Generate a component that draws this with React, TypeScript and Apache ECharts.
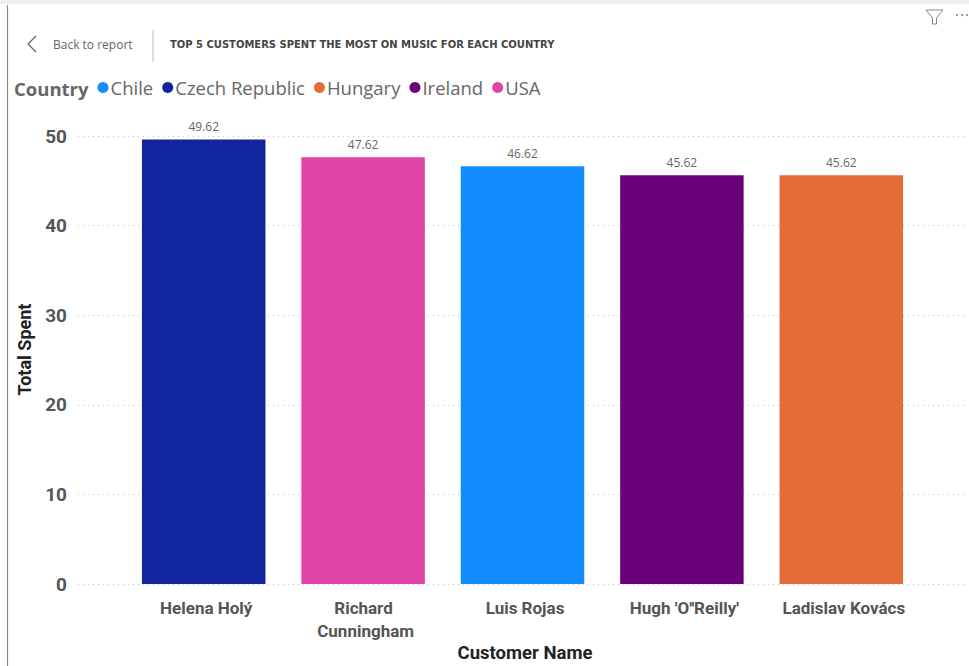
import React, { useEffect, useRef } from "react";
import * as echarts from "echarts";

const customers = ["Helena Holý", "Richard Cunningham", "Luis Rojas", "Hugh 'O''Reilly'", "Ladislav Kovács"];
const countries = ["Chile", "Czech Republic", "Hungary", "Ireland", "USA"];
const colors = ["#118DFF", "#12239E", "#E66C37", "#6B007B", "#E044A7"];
const chile = [null, null, 46.62, null, null];
const czech = [49.62, null, null, null, null];
const hungary = [null, null, null, null, 45.62];
const ireland = [null, null, null, 45.62, null];
const usa = [null, 47.62, null, null, null];
const countryValues = [chile, czech, hungary, ireland, usa];
const headerTitle = "TOP 5 CUSTOMERS SPENT THE MOST ON MUSIC FOR EACH COUNTRY";

const UI = "'Open Sans', 'Noto Sans', sans-serif";
const LBL = "Roboto, 'Noto Sans', sans-serif";

export default function App() {
  const ref = useRef<HTMLDivElement>(null);
  useEffect(() => {
    const chart = echarts.init(ref.current!, undefined, { renderer: "svg" });
    chart.setOption({
      animation: false,
      backgroundColor: "#fff",
      grid: [
        { left: 78, right: 4, top: 136, bottom: 82, outerBoundsMode: "none" },
        { left: 124, right: 48, top: 136, bottom: 82, outerBoundsMode: "none" },
      ],
      xAxis: [
        { type: "value", gridIndex: 0, show: false, min: 0, max: 1 },
        {
          type: "category",
          gridIndex: 1,
          data: customers,
          axisLine: { show: false },
          axisTick: { show: false },
          axisLabel: {
            interval: 0,
            margin: 12.5,
            width: 135,
            overflow: "break",
            lineHeight: 23,
            padding: [0, 0, 0, 5],
            fontFamily: LBL,
            fontWeight: "bold",
            fontSize: 17,
            color: "#555",
          },
          name: "Customer Name",
          nameLocation: "middle",
          nameGap: 59,
          nameMoveOverlap: false,
          nameTextStyle: { fontFamily: LBL, fontWeight: "bold", fontSize: 18.5, color: "#222", padding: [0, 0, 0, 5] },
        },
      ],
      yAxis: [
        {
          type: "value",
          gridIndex: 0,
          min: 0,
          max: 50,
          interval: 10,
          axisLine: { show: false },
          axisTick: { show: false },
          axisLabel: { margin: 11, fontFamily: LBL, fontWeight: "bold", fontSize: 19, color: "#555" },
          splitLine: { show: true, lineStyle: { type: [1, 4], color: "#c0c0c0", width: 1 } },
          name: "Total Spent",
          nameLocation: "middle",
          nameGap: 45,
          nameTextStyle: { fontFamily: LBL, fontWeight: "bold", fontSize: 18, color: "#222", padding: [0, 0, 0, 21] },
        },
        { type: "value", gridIndex: 1, show: false, min: 0, max: 50, interval: 10, splitLine: { show: false } },
      ],
      legend: {
        left: 97.5,
        top: 78,
        padding: 0,
        icon: "circle",
        itemWidth: 11,
        itemHeight: 11,
        itemGap: 9,
        data: countries,
        textStyle: { fontFamily: UI, fontSize: 18.5, color: "#666", padding: [0, 0, 0, -3] },
      },
      series: countries.map((name, i) => ({
        name,
        type: "bar",
        xAxisIndex: 1,
        yAxisIndex: 1,
        barGap: "-100%",
        barWidth: 123.5,
        data: countryValues[i],
        itemStyle: { color: colors[i] },
        label: {
          show: true,
          position: "top",
          distance: 7,
          formatter: (p: any) => Number(p.value).toFixed(2),
          fontFamily: UI,
          fontSize: 12,
          color: "#666",
        },
      })),
      graphic: [
        { type: "rect", shape: { x: 0, y: 0, width: 969, height: 4 }, style: { fill: "#f0f0f0" } },
        { type: "line", shape: { x1: 7.5, y1: 5, x2: 7.5, y2: 666 }, style: { stroke: "#8a8a8a", lineWidth: 1.2 } },
        { type: "polyline", shape: { points: [[36, 36], [28, 44], [36, 52]] }, style: { stroke: "#666", lineWidth: 1.2, fill: "none" } },
        { type: "text", x: 53, y: 44, style: { text: "Back to report", fontFamily: UI, fontSize: 12, fill: "#666", verticalAlign: "middle" } },
        { type: "line", shape: { x1: 153, y1: 30, x2: 153, y2: 62 }, style: { stroke: "#bbb", lineWidth: 1 } },
        { type: "text", x: 170, y: 44, style: { text: headerTitle, fontFamily: "'DejaVu Sans Condensed', 'DejaVu Sans', sans-serif", fontWeight: "bold", fontSize: 11.1, fill: "#444", verticalAlign: "middle" } },
        { type: "text", x: 14, y: 88, style: { text: "Country", fontFamily: UI, fontWeight: "bold", fontSize: 18.5, fill: "#666", verticalAlign: "middle" } },
        { type: "polygon", shape: { points: [[926, 10], [943, 10], [936.5, 18], [936.5, 24], [932.5, 24], [932.5, 18]] }, style: { stroke: "#888", lineWidth: 1, fill: "none" } },
        { type: "circle", shape: { cx: 957, cy: 15, r: 1 }, style: { fill: "#888" } },
        { type: "circle", shape: { cx: 962, cy: 15, r: 1 }, style: { fill: "#888" } },
        { type: "circle", shape: { cx: 967, cy: 15, r: 1 }, style: { fill: "#888" } },
      ],
    });
    return () => chart.dispose();
  }, []);
  return <div ref={ref} style={{ position: "absolute", left: 0, top: 0, width: 969, height: 666 }} />;
}
